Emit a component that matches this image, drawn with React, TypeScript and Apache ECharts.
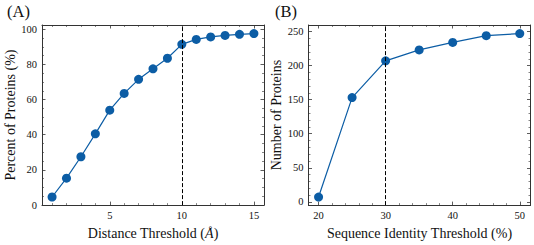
import React, { useEffect, useRef } from "react";
import * as echarts from "echarts";

const distanceThresholds = [1, 2, 3, 4, 5, 6, 7, 8, 9, 10, 11, 12, 13, 14, 15];
const percentProteins = [4.6, 15.3, 27.5, 40.5, 54.0, 63.5, 71.5, 77.5, 83.5, 91.4, 94.2, 95.6, 96.5, 97.1, 97.5];
const identityThresholds = [20, 25, 30, 35, 40, 45, 50];
const numberProteins = [7, 153, 207, 223, 234, 244, 247];
const distanceCutoff = 10;
const identityCutoff = 30;

const BLUE = "#0C5DA5";
const FONT = "Liberation Serif";
const AXIS_COLOR = "#333";
const NAME_SIZE = 14;

function makeAxes(kind: "x" | "y", gridIndex: number, min: number, max: number, minorSplit: number, splitNumber: number, name: string, nameGap: number, showMin: boolean) {
  const base = {
    type: "value" as const,
    gridIndex,
    min,
    max,
    splitNumber,
    splitLine: { show: false },
    axisLine: { show: true, onZero: false, lineStyle: { color: AXIS_COLOR, width: 1 } },
    axisTick: { show: true, inside: true, length: 3.5, lineStyle: { color: AXIS_COLOR, width: 0.8 } },
    minorTick: { show: true, splitNumber: minorSplit, length: 2, lineStyle: { color: AXIS_COLOR, width: 0.6 } },
    minorSplitLine: { show: false },
  };
  const main = {
    ...base,
    position: kind === "x" ? "bottom" : "left",
    name,
    nameLocation: "middle",
    nameGap,
    nameTextStyle: {
      fontFamily: FONT,
      fontSize: NAME_SIZE,
      color: "#111",
      rich: { i: { fontFamily: FONT, fontSize: NAME_SIZE, fontStyle: "italic", color: "#111" } },
    },
    axisLabel: {
      show: true,
      fontFamily: FONT,
      fontSize: 10.5,
      color: "#111",
      margin: 5,
      showMinLabel: showMin,
      showMaxLabel: false,
    },
  };
  const mirror = {
    ...base,
    position: kind === "x" ? "top" : "right",
    axisLabel: { show: false },
  };
  return [main, mirror];
}

export default function App() {
  const ref = useRef<HTMLDivElement>(null);
  useEffect(() => {
    if (!ref.current) return;
    const chart = echarts.init(ref.current, null, { renderer: "svg" });
    const xA = makeAxes("x", 0, 0.3, 15.7, 5, 3, "Distance Threshold ({i|Å})", 18, false);
    const yA = makeAxes("y", 0, 0, 102.4, 4, 5, "Percent of Proteins (%)", 21, true);
    const xB = makeAxes("x", 1, 18.5, 51.6, 5, 3, "Sequence Identity Threshold (%)", 18, false);
    const yB = makeAxes("y", 1, -4.8, 259.6, 5, 5, "Number of Proteins", 22.5, false);
    const dashed = (x: number) => ({
      silent: true,
      symbol: ["none", "none"],
      label: { show: false },
      lineStyle: { color: "#000", type: [4, 2], width: 1 },
      data: [{ xAxis: x }],
    });
    chart.setOption({
      animation: false,
      backgroundColor: "#fff",
      grid: [
        { left: 42, top: 25, width: 222, height: 182.3 },
        { left: 308.5, top: 25, width: 222, height: 182.3 },
      ],
      xAxis: [...xA, ...xB],
      yAxis: [...yA, ...yB],
      graphic: [
        { type: "text", left: 7, top: 3, style: { text: "(A)", font: `16.5px "${FONT}"`, fill: "#111" } },
        { type: "text", left: 275, top: 3, style: { text: "(B)", font: `16.5px "${FONT}"`, fill: "#111" } },
      ],
      series: [
        {
          type: "line",
          xAxisIndex: 0,
          yAxisIndex: 0,
          data: distanceThresholds.map((x, i) => [x, percentProteins[i]]),
          symbol: "circle",
          symbolSize: 9,
          itemStyle: { color: BLUE },
          lineStyle: { color: BLUE, width: 1.2 },
          markLine: dashed(distanceCutoff),
        },
        {
          type: "line",
          xAxisIndex: 2,
          yAxisIndex: 2,
          data: identityThresholds.map((x, i) => [x, numberProteins[i]]),
          symbol: "circle",
          symbolSize: 9,
          itemStyle: { color: BLUE },
          lineStyle: { color: BLUE, width: 1.2 },
          markLine: dashed(identityCutoff),
        },
      ],
    });
    return () => chart.dispose();
  }, []);
  return <div ref={ref} style={{ position: "fixed", left: 0, top: 0, width: 534, height: 245 }} />;
}
